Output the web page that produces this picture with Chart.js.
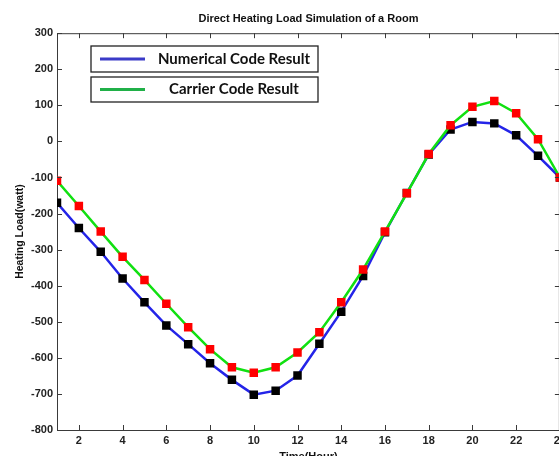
<!DOCTYPE html>
<html>
<head>
<meta charset="utf-8">
<script src="https://cdn.jsdelivr.net/npm/chart.js@4"></script>
<style>
html,body{margin:0;padding:0;background:#fff;overflow:hidden;width:559px;height:456px;}
canvas{display:block;}
</style>
</head>
<body>
<canvas id="c" width="570" height="470"></canvas>
<script>
const hours = [1,2,3,4,5,6,7,8,9,10,11,12,13,14,15,16,17,18,19,20,21,22,23,24];
const numericalLoad = [-170,-240,-306,-380,-446,-510,-562,-615,-661,-702,-691,-649,-561,-472,-373,-252,-143,-36,33,54,50,17,-40,-100];
const carrierLoad = [-109,-179,-250,-320,-384,-450,-515,-576,-626,-641,-626,-585,-529,-446,-355,-250,-144,-35,45,96,112,78,6,-100];
const xTickValues = [2,4,6,8,10,12,14,16,18,20,22,24];
const seriesNames = ['Numerical Code Result','Carrier Code Result'];
const titleText = 'Direct Heating Load Simulation of a Room';
const xTitle = 'Time(Hour)';
const yTitle = 'Heating Load(watt)';

const toPoints = (ys) => hours.map((h, i) => ({x: h, y: ys[i]}));

const frameColor = '#3a3a3a';
const tickFont = {family: 'Liberation Sans', weight: 'bold', size: 11};

const framePlugin = {
  id: 'frame',
  afterDatasetsDraw(chart) {
    const {ctx, chartArea: a, scales: {x, y}} = chart;
    ctx.save();
    ctx.strokeStyle = frameColor;
    ctx.lineWidth = 1;
    ctx.beginPath();
    ctx.moveTo(a.left, a.top + 0.5); ctx.lineTo(a.right, a.top + 0.5);
    ctx.moveTo(a.right - 0.5, a.top); ctx.lineTo(a.right - 0.5, a.bottom);
    const L = 5;
    x.ticks.forEach(t => {
      const px = Math.round(x.getPixelForValue(t.value)) + 0.5;
      ctx.moveTo(px, a.bottom); ctx.lineTo(px, a.bottom - L);
      ctx.moveTo(px, a.top); ctx.lineTo(px, a.top + L);
    });
    y.ticks.forEach(t => {
      const py = Math.round(y.getPixelForValue(t.value)) + 0.5;
      ctx.moveTo(a.left, py); ctx.lineTo(a.left + L, py);
      ctx.moveTo(a.right, py); ctx.lineTo(a.right - L, py);
    });
    ctx.stroke();
    ctx.restore();
  }
};

const legendPlugin = {
  id: 'boxLegend',
  afterDraw(chart) {
    const {ctx} = chart;
    const boxes = [{y: 46, h: 26}, {y: 77, h: 25}];
    ctx.save();
    chart.data.datasets.forEach((ds, i) => {
      const b = boxes[i];
      ctx.fillStyle = '#fff';
      ctx.fillRect(91, b.y, 227, b.h);
      ctx.strokeStyle = '#222';
      ctx.lineWidth = 1.3;
      ctx.strokeRect(91, b.y, 227, b.h);
      const cy = b.y + b.h / 2;
      ctx.strokeStyle = ds.legendColor;
      ctx.lineWidth = 3;
      ctx.beginPath();
      ctx.moveTo(100, cy); ctx.lineTo(145, cy);
      ctx.stroke();
      ctx.fillStyle = '#111';
      ctx.font = 'bold 15px Lato';
      ctx.textAlign = 'center';
      ctx.textBaseline = 'middle';
      ctx.fillText(ds.label, 234, cy);
    });
    ctx.restore();
  }
};

new Chart(document.getElementById('c'), {
  type: 'line',
  data: {
    datasets: [
      {
        label: seriesNames[0],
        data: toPoints(numericalLoad),
        borderColor: '#2424e8',
        legendColor: '#3b3bc8',
        borderWidth: 2.5,
        pointStyle: 'rect',
        pointRadius: 6,
        pointBackgroundColor: '#000',
        pointBorderWidth: 0,
        tension: 0,
        order: 1
      },
      {
        label: seriesNames[1],
        data: toPoints(carrierLoad),
        borderColor: '#11e011',
        legendColor: '#20b048',
        borderWidth: 2.5,
        pointStyle: 'rect',
        pointRadius: 6,
        pointBackgroundColor: '#ff0000',
        pointBorderWidth: 0,
        tension: 0,
        order: 0
      }
    ]
  },
  options: {
    responsive: false,
    animation: false,
    devicePixelRatio: 1,
    layout: {padding: {top: 0, left: 0, right: 10, bottom: 0}},
    plugins: {
      legend: {display: false},
      tooltip: {enabled: false},
      title: {
        display: true,
        text: titleText,
        fullSize: false,
        color: '#111',
        font: {family: 'Liberation Sans', weight: 'bold', size: 11},
        padding: {top: 12, bottom: 8}
      }
    },
    scales: {
      x: {
        type: 'linear',
        min: 1,
        max: 24,
        afterBuildTicks: (s) => { s.ticks = xTickValues.map(v => ({value: v})); },
        afterFit: (s) => { s.height = 40; },
        grid: {display: false, drawTicks: false},
        border: {display: true, color: frameColor, width: 1},
        ticks: {color: '#222', font: tickFont, padding: 4, maxRotation: 0, autoSkip: false},
        title: {display: true, text: xTitle, color: '#111', font: {family: 'Liberation Sans', weight: 'bold', size: 11}, padding: {top: 0, bottom: 6}}
      },
      y: {
        min: -800,
        max: 300,
        afterFit: (s) => { s.width = 57; },
        grid: {display: false, drawTicks: false},
        border: {display: true, color: frameColor, width: 1},
        ticks: {stepSize: 100, color: '#222', font: tickFont, padding: 4},
        title: {display: true, text: yTitle, color: '#111', font: {family: 'Liberation Sans', weight: 'bold', size: 10.5}, padding: {top: 14, bottom: 0}}
      }
    }
  },
  plugins: [framePlugin, legendPlugin]
});
</script>
</body>
</html>
